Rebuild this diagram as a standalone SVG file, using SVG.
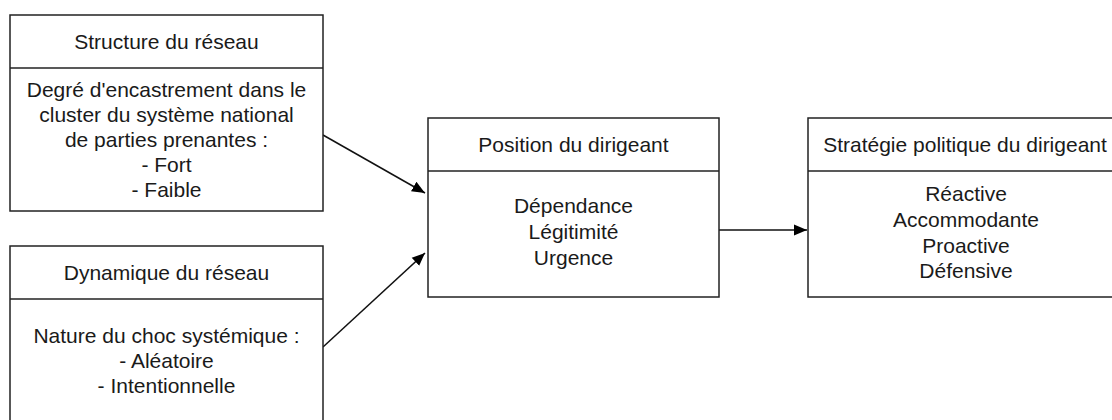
<svg xmlns="http://www.w3.org/2000/svg" width="1112" height="420" viewBox="0 0 1112 420">
<style>
.box{fill:#fff;stroke:#222;stroke-width:1.5}
.div{stroke:#222;stroke-width:1.5}
.t{font-family:"Liberation Sans",Arial,sans-serif;font-size:21px;fill:#1a1a1a;text-anchor:middle}
.c{stroke:#111;stroke-width:1.5;fill:none}
</style>
<defs>
<marker id="ah" markerUnits="userSpaceOnUse" markerWidth="14" markerHeight="14" viewBox="0 0 14 14" refX="13" refY="7" orient="auto">
<path d="M0,1.5 L13,7 L0,12.5 Z" fill="#000"/>
</marker>
</defs>
<rect width="1112" height="420" fill="#fff"/>
<g id="connectors">
<line class="c" x1="323" y1="135" x2="425" y2="193" marker-end="url(#ah)"/>
<line class="c" x1="323" y1="347" x2="425" y2="253" marker-end="url(#ah)"/>
<line class="c" x1="719" y1="230" x2="807" y2="230" marker-end="url(#ah)"/>
</g>
<g id="structure">
<rect class="box" x="10" y="15" width="313" height="196"/>
<line class="div" x1="10" y1="68" x2="323" y2="68"/>
<text class="t" x="166.5" y="49">Structure du réseau</text>
<text class="t" x="166.5" y="97">Degré d'encastrement dans le</text>
<text class="t" x="166.5" y="122">cluster du système national</text>
<text class="t" x="166.5" y="147">de parties prenantes :</text>
<text class="t" x="166.5" y="172">- Fort</text>
<text class="t" x="166.5" y="197">- Faible</text>
</g>
<g id="dynamique">
<rect class="box" x="10" y="246" width="313" height="190"/>
<line class="div" x1="10" y1="299" x2="323" y2="299"/>
<text class="t" x="166.5" y="280">Dynamique du réseau</text>
<text class="t" x="166.5" y="343">Nature du choc systémique :</text>
<text class="t" x="166.5" y="368">- Aléatoire</text>
<text class="t" x="166.5" y="393">- Intentionnelle</text>
</g>
<g id="position">
<rect class="box" x="428" y="118" width="291" height="179"/>
<line class="div" x1="428" y1="171" x2="719" y2="171"/>
<text class="t" x="573.5" y="152">Position du dirigeant</text>
<text class="t" x="573.5" y="213">Dépendance</text>
<text class="t" x="573.5" y="239">Légitimité</text>
<text class="t" x="573.5" y="265">Urgence</text>
</g>
<g id="strategie">
<rect class="box" x="808" y="118" width="320" height="179"/>
<line class="div" x1="808" y1="171" x2="1128" y2="171"/>
<text class="t" x="965" y="152">Stratégie politique du dirigeant</text>
<text class="t" x="966" y="201">Réactive</text>
<text class="t" x="966" y="227">Accommodante</text>
<text class="t" x="966" y="253">Proactive</text>
<text class="t" x="966" y="278">Défensive</text>
</g>
</svg>
